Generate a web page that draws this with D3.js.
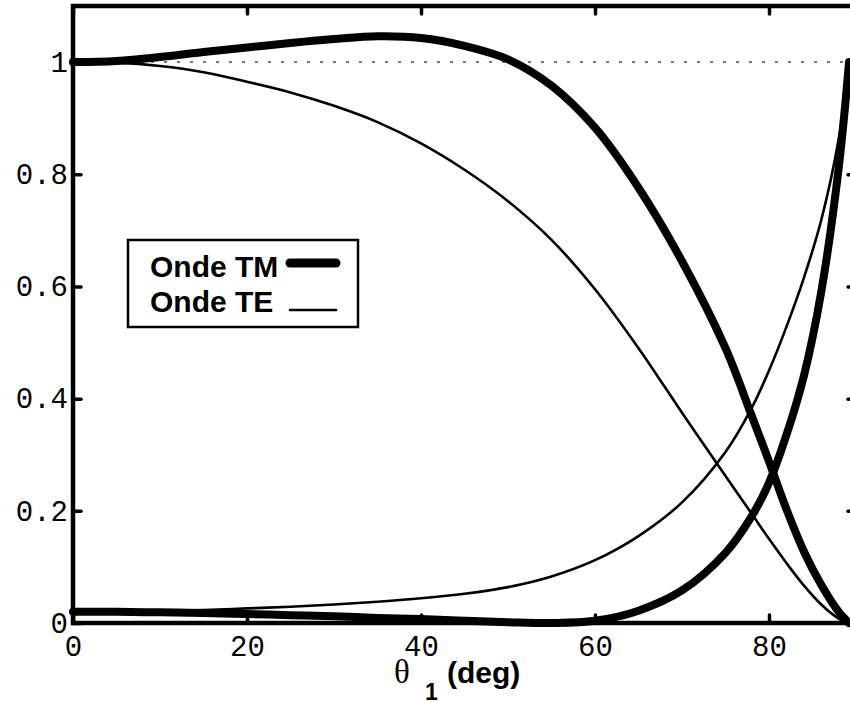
<!DOCTYPE html>
<html><head><meta charset="utf-8">
<script src="https://cdn.jsdelivr.net/npm/d3@7"></script>
<style>body{margin:0;background:#fff}svg{display:block}</style>
</head><body>
<svg id="c" width="850" height="702"></svg>
<script>
// incidence angle samples (deg)
const angles  = [0, 5, 10, 15, 20, 25, 30, 35, 40, 45, 50, 55, 60, 65, 70, 75, 78, 80, 82, 84, 86, 88, 89.2];
// TM transmission-like curve (thick, rises above 1)
const tmTrans = [1.000, 1.002, 1.009, 1.018, 1.026, 1.034, 1.041, 1.046, 1.043, 1.029, 1.005, 0.958, 0.883, 0.776, 0.645, 0.49, 0.37, 0.288, 0.203, 0.128, 0.068, 0.02, 0.0];
// TE transmission-like curve (thin)
const teTrans = [1.000, 0.999, 0.993, 0.982, 0.965, 0.946, 0.922, 0.893, 0.855, 0.808, 0.752, 0.683, 0.595, 0.49, 0.375, 0.262, 0.195, 0.15, 0.107, 0.067, 0.033, 0.008, 0.0];
// TE reflection (thin)
const teRefl  = [0.020, 0.020, 0.021, 0.023, 0.026, 0.029, 0.033, 0.038, 0.044, 0.052, 0.064, 0.083, 0.112, 0.155, 0.215, 0.305, 0.383, 0.45, 0.528, 0.615, 0.718, 0.862, 1.0];
// TM reflection (thick)
const tmRefl  = [0.020, 0.020, 0.019, 0.018, 0.016, 0.014, 0.012, 0.009, 0.007, 0.004, 0.0015, 0.0, 0.004, 0.022, 0.058, 0.125, 0.19, 0.25, 0.335, 0.44, 0.59, 0.81, 1.0];

const xTicks = [0, 20, 40, 60, 80];
const yTicks = [0, 0.2, 0.4, 0.6, 0.8, 1];
const yTickLabels = ["0", "0.2", "0.4", "0.6", "0.8", "1"];
const legendLabels = ["Onde TM", "Onde TE"];
const refLine = [1, 1];
const refAngles = [0, 89.2];

const svg = d3.select("#c");
const x = d3.scaleLinear().domain([0, 90]).range([73, 856]);
const y = d3.scaleLinear().domain([0, 1.1]).range([623, 6]);

// dotted reference line at 1
svg.append("path")
  .attr("d", d3.line().x((d, i) => x(refAngles[i])).y(d => y(d))(refLine))
  .attr("fill", "none").attr("stroke", "#777").attr("stroke-width", 2)
  .attr("stroke-dasharray", "3,10");

const line = d3.line()
  .x((d, i) => x(angles[i]))
  .y(d => y(d))
  .curve(d3.curveCatmullRom.alpha(0.5));

const series = [
  {v: teTrans, w: 2.6},
  {v: teRefl, w: 2.6},
  {v: tmTrans, w: 8},
  {v: tmRefl, w: 8}
];
svg.selectAll("path.curve").data(series).enter().append("path")
  .attr("class", "curve")
  .attr("d", d => line(d.v))
  .attr("fill", "none").attr("stroke", "#000")
  .attr("stroke-width", d => d.w)
  .attr("stroke-linejoin", "round").attr("stroke-linecap", "round");

// frame
svg.append("rect")
  .attr("x", x(0)).attr("y", y(1.1))
  .attr("width", x(90) - x(0)).attr("height", y(0) - y(1.1))
  .attr("fill", "none").attr("stroke", "#000").attr("stroke-width", 4.5);

function styleAxis(g) {
  g.select(".domain").remove();
  g.selectAll(".tick line").attr("stroke", "#000").attr("stroke-width", 3.5).attr("stroke-linecap", "round");
  g.selectAll(".tick text").attr("fill", "#000")
    .style("font-family", "'Liberation Mono', 'DejaVu Sans Mono', monospace")
    .style("font-size", "29px");
}

svg.append("g").attr("transform", `translate(0,${y(0)})`)
  .call(d3.axisBottom(x).tickValues(xTicks).tickSize(-8).tickPadding(12).tickFormat(d3.format("d")))
  .call(styleAxis);
svg.append("g").attr("transform", `translate(0,${y(1.1)})`)
  .call(d3.axisTop(x).tickValues(xTicks).tickSize(-8).tickFormat(""))
  .call(styleAxis);
svg.append("g").attr("transform", `translate(${x(0)},0)`)
  .call(d3.axisLeft(y).tickValues(yTicks).tickSize(-8).tickPadding(5).tickFormat((d, i) => yTickLabels[i]))
  .call(styleAxis);
svg.append("g").attr("transform", `translate(${x(90)},0)`)
  .call(d3.axisRight(y).tickValues(yTicks).tickSize(-8).tickFormat(""))
  .call(styleAxis);

// x-axis title
const title = svg.append("g");
title.append("text").attr("x", 394).attr("y", 683)
  .style("font-family", "'Liberation Serif', 'DejaVu Serif', serif").style("font-size", "33px")
  .text("θ");
title.append("text").attr("x", 425).attr("y", 700)
  .style("font-family", "'Liberation Sans', Arial, sans-serif").style("font-weight", "bold").style("font-size", "23px")
  .text("1");
title.append("text").attr("x", 447).attr("y", 683)
  .style("font-family", "'Liberation Sans', Arial, sans-serif").style("font-weight", "bold").style("font-size", "30px")
  .text("(deg)");

// legend
const lg = svg.append("g");
lg.append("rect").attr("x", 128).attr("y", 240).attr("width", 230).attr("height", 87)
  .attr("fill", "#fff").attr("stroke", "#000").attr("stroke-width", 2.5);
const legendWidths = [9, 2.6];
const legendY = [263, 310];
const legendBase = [277, 312];
legendLabels.forEach((lab, i) => {
  lg.append("text").attr("x", 150).attr("y", legendBase[i])
    .style("font-family", "'Liberation Sans', Arial, sans-serif").style("font-weight", "bold").style("font-size", "30px")
    .text(lab);
  lg.append("line").attr("x1", 290).attr("x2", 336).attr("y1", legendY[i]).attr("y2", legendY[i])
    .attr("stroke", "#000").attr("stroke-width", legendWidths[i]).attr("stroke-linecap", "round");
});
</script>
</body></html>
